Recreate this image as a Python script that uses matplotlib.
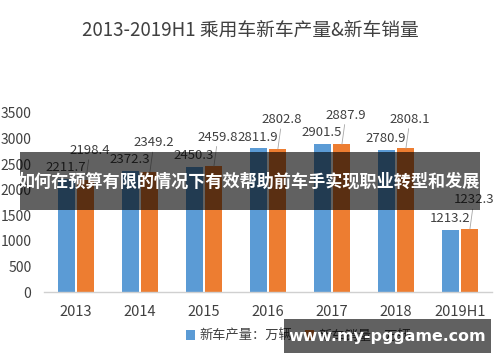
import matplotlib
matplotlib.use("Agg")
import matplotlib.pyplot as plt
import numpy as np
from matplotlib.patches import Rectangle

plt.rcParams['font.family'] = ['Noto Sans CJK SC', 'DejaVu Sans']

categories = ["2013", "2014", "2015", "2016", "2017", "2018", "2019H1"]
production = [2211.7, 2372.3, 2450.3, 2811.9, 2901.5, 2780.9, 1213.2]
sales = [2198.4, 2349.2, 2459.8, 2802.8, 2887.9, 2808.1, 1232.3]
yticks = [0, 500, 1000, 1500, 2000, 2500, 3000, 3500]
title = "2013-2019H1 乘用车新车产量&新车销量"
legend_labels = ["新车产量：万辆", "新车销量：万辆"]
banner_text = "如何在预算有限的情况下有效帮助前车手实现职业转型和发展"
watermark_text = "www.my-pggame.com"

BLUE = "#5B9BD5"
ORANGE = "#ED7D31"
TXT = "#404040"

W, H = 500, 362
fig = plt.figure(figsize=(W / 100, H / 100), dpi=100)
ax = fig.add_axes([44 / W, (H - 292) / H, 448 / W, (292 - 113) / H])

x = np.arange(len(categories))
bw = 0.264
off = 0.155
b1 = ax.bar(x - off, production, bw, color=BLUE, label=legend_labels[0], zorder=2)
b2 = ax.bar(x + off, sales, bw, color=ORANGE, label=legend_labels[1], zorder=2)

ax.set_xlim(-0.5, len(categories) - 0.5)
ax.set_ylim(0, 3500)
ax.set_yticks(yticks)
ax.set_yticklabels([str(v) for v in yticks])
ax.set_xticks(x)
ax.set_xticklabels(categories)
ax.tick_params(axis='y', length=0, pad=9, labelsize=10, labelcolor=TXT)
ax.tick_params(axis='x', length=0, pad=9, labelsize=10.5, labelcolor=TXT)
for s in ['top', 'right', 'left']:
    ax.spines[s].set_visible(False)
ax.spines['bottom'].set_color('#D0D0D0')
ax.spines['bottom'].set_linewidth(1.0)

for xi, v in zip(x, production):
    ax.annotate(f"{v}", xy=(xi - off, v), xytext=(0, 11), textcoords='offset pixels',
                ha='center', va='center', fontsize=9.5, color=TXT, annotation_clip=False)
for xi, v in zip(x, sales):
    ax.annotate(f"{v}", xy=(xi + off, v), xytext=(4, 29), textcoords='offset pixels',
                ha='center', va='center', fontsize=9.5, color=TXT, annotation_clip=False,
                arrowprops=dict(arrowstyle='-', color='#A6A6A6', lw=0.6, shrinkA=0, shrinkB=0))

fig.text(0.5, 1 - 30 / H, title, ha='center', va='center', fontsize=13.5, color=TXT)

fig.legend(handles=[b1, b2], labels=legend_labels, loc='center left',
           bbox_to_anchor=(174 / W, 1 - 336 / H), ncol=2, frameon=False,
           fontsize=9.5, handlelength=0.7, handleheight=0.7, handletextpad=0.3,
           columnspacing=1.0, labelcolor=TXT)

# overlay banner
fig.patches.append(Rectangle((20 / W, 1 - 210 / H), 460 / W, 58 / H, transform=fig.transFigure,
                             facecolor='black', alpha=0.62, edgecolor='none', zorder=10))
fig.text(249 / W, 1 - 182 / H, banner_text, ha='center', va='center', fontsize=12.3,
         fontweight='bold', color='white', zorder=11)

# watermark
fig.patches.append(Rectangle((284 / W, 1 - 353 / H), 207 / W, 34 / H, transform=fig.transFigure,
                             facecolor='black', alpha=0.62, edgecolor='none', zorder=10))
fig.text(387 / W, 1 - 336 / H, watermark_text, ha='center', va='center', fontsize=11.4,
         fontweight='bold', color='white', family=['DejaVu Sans'], zorder=11)

fig.savefig("out.png", dpi=100)
